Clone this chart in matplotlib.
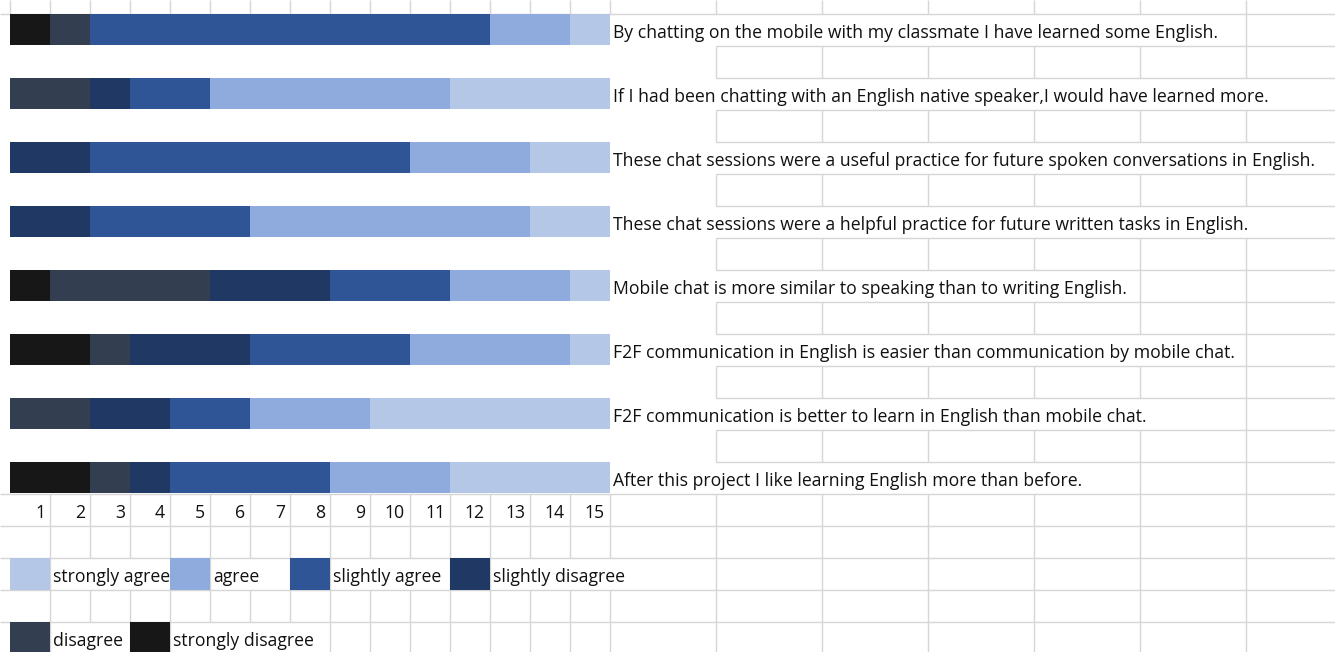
import matplotlib
matplotlib.use("Agg")
import matplotlib.pyplot as plt
from matplotlib.collections import LineCollection
import numpy as np

# survey statements, top to bottom
statements = [
    "By chatting on the mobile with my classmate I have learned some English.",
    "If I had been chatting with an English native speaker,I would have learned more.",
    "These chat sessions were a useful practice for future spoken conversations in English.",
    "These chat sessions were a helpful practice for future written tasks in English.",
    "Mobile chat is more similar to speaking than to writing English.",
    "F2F communication in English is easier than communication by mobile chat.",
    "F2F communication is better to learn in English than mobile chat.",
    "After this project I like learning English more than before.",
]

# number of students per answer (15 students)
strongly_disagree = [1, 0, 0, 0, 1, 2, 0, 2]
disagree = [1, 2, 0, 0, 4, 1, 2, 1]
slightly_disagree = [0, 1, 2, 2, 3, 3, 2, 1]
slightly_agree = [10, 2, 8, 4, 3, 4, 2, 4]
agree = [2, 6, 3, 7, 3, 4, 3, 3]
strongly_agree = [1, 4, 2, 2, 1, 1, 6, 4]

levels = ["strongly disagree", "disagree", "slightly disagree",
          "slightly agree", "agree", "strongly agree"]
level_colors = ["#171717", "#333f50", "#203864", "#2f5597", "#8faadc", "#b4c7e7"]

legend_order = ["strongly agree", "agree", "slightly agree", "slightly disagree",
                "disagree", "strongly disagree"]
legend_cells = [(17, 0), (17, 4), (17, 7), (17, 11), (19, 0), (19, 3)]

scale_ticks = list(range(1, 16))

# sheet geometry (pixels)
W, H = 1335, 652
PX = 40.0      # narrow column width
X0 = 10.0
Y0 = 13.5
ROW = 32.0
WIDE = 106 / PX  # wide column width in narrow-column units
BASE = 0.765     # text baseline inside a row
GRID = "#d6d6d6"
FONT = "Open Sans"
FS = 12.7
TXT = "#111111"

fig = plt.figure(figsize=(W / 100, H / 100), dpi=100)
ax = fig.add_axes([0, 0, 1, 1])
xmin, xmax = -X0 / PX, (W - X0) / PX
ytop, ybot = -Y0 / ROW, (H - Y0) / ROW
ax.set_xlim(xmin, xmax)
ax.set_ylim(ybot, ytop)
ax.axis("off")

values = np.array([strongly_disagree, disagree, slightly_disagree,
                   slightly_agree, agree, strongly_agree])
rows = np.arange(len(statements)) * 2
left = np.zeros(len(statements))
for vals, col in zip(values, level_colors):
    ax.barh(rows + 0.5, vals, left=left, height=0.98, color=col, linewidth=0, zorder=3)
    left += vals

texts = []
for i, s in enumerate(statements):
    t = ax.text(left[i] + 3 / PX, rows[i] + BASE, s, ha="left", va="baseline",
                fontsize=FS, family=FONT, color=TXT, zorder=4)
    texts.append((rows[i], left[i], t))

for k in scale_ticks:
    ax.text(k - 5 / PX, 15 + BASE, str(k), ha="right", va="baseline",
            fontsize=FS, family=FONT, color=TXT, zorder=4)

for name, (r, c) in zip(legend_order, legend_cells):
    ax.barh(r + 0.5, 1, left=c, height=1, color=level_colors[levels.index(name)],
            linewidth=0, zorder=3)
    t = ax.text(c + 1 + 3 / PX, r + BASE, name, ha="left", va="baseline",
                fontsize=FS, family=FONT, color=TXT, zorder=4)
    texts.append((r, c + 1, t))

# gridlines, hidden where text overflows into the next cells
fig.canvas.draw()
renderer = fig.canvas.get_renderer()
inv = ax.transData.inverted()
covered = {}
for r, xs, t in texts:
    bb = t.get_window_extent(renderer)
    x1 = inv.transform((bb.x1, 0))[0]
    covered.setdefault(r, []).append((xs, x1))

edges = np.concatenate([np.arange(0, 16), 15 + WIDE * np.arange(1, 8)])
segs = []
for r in range(-1, 20):
    ya, yb = max(r, ytop), r + 1
    for e in edges:
        if e > xmax:
            continue
        if r == -1:
            ok = True
        elif r <= 14:
            ok = e >= 15 + WIDE - 1e-6
        else:
            ok = e > 0
        if any(xs + 1e-6 < e < x1 + 0.02 for xs, x1 in covered.get(r, [])):
            ok = False
        if ok:
            segs.append([(e, ya), (e, yb)])

for b in range(0, 20):
    if 1 <= b <= 14:
        segs.append([(15 + WIDE, b), (xmax, b)])
    else:
        segs.append([(xmin, b), (xmax, b)])

ax.add_collection(LineCollection(segs, colors=GRID, linewidths=1.0, zorder=1))

fig.savefig("out.png", dpi=100)
